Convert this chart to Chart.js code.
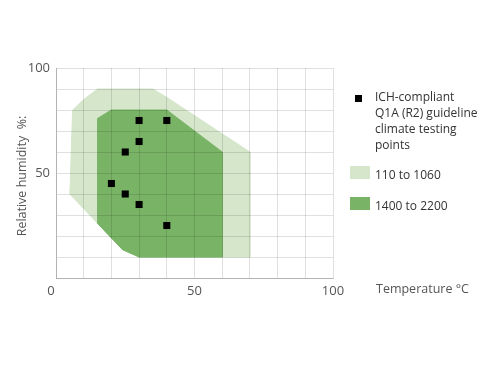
<!DOCTYPE html>
<html>
<head>
<meta charset="utf-8">
<script src="https://cdn.jsdelivr.net/npm/chart.js@4.4.1/dist/chart.umd.min.js"></script>
<style>
  html, body { margin: 0; padding: 0; background: #fff; }
  #wrap { width: 500px; height: 375px; position: relative; }
</style>
</head>
<body>
<div id="wrap"><canvas id="chart_climate" width="500" height="375"></canvas></div>
<script>
// x = temperature in °C, y = relative humidity in %
var lowRangeX  = [5, 6, 10, 15, 35, 40, 70, 70, 30, 24, 15, 5];
var lowRangeY  = [40, 80, 85, 90, 90, 86, 60, 10, 10, 13.5, 26, 40];
var highRangeX = [15, 15, 20, 40, 60, 60, 30, 24, 15];
var highRangeY = [26, 76, 80, 80, 60, 10, 10, 13.5, 26];
var ichX = [30, 40, 30, 25, 20, 25, 30, 40];
var ichY = [75, 75, 65, 60, 45, 40, 35, 25];
var xTickLabels = [0, 50, 100];
var yTickLabels = [50, 100];

var legendLines = ['ICH-compliant', 'Q1A (R2) guideline', 'climate testing', 'points'];
var legendLow = '110 to 1060';
var legendHigh = '1400 to 2200';

var LIGHT = '#d5e6cb';
var DARK = '#79b466';
var TEXT = '#555555';

function toPoints(xs, ys) {
  return xs.map(function (x, i) { return { x: x, y: ys[i] }; });
}

var chart_climate = new Chart(document.getElementById('chart_climate'), {
  type: 'scatter',
  data: {
    datasets: [
      {
        label: legendLines.join(' '),
        data: toPoints(ichX, ichY),
        pointStyle: 'rect',
        pointRadius: 5,
        pointHoverRadius: 5,
        backgroundColor: '#000',
        borderColor: '#000',
        borderWidth: 0,
        showLine: false,
        order: 0
      },
      {
        type: 'line',
        label: legendHigh,
        data: toPoints(highRangeX, highRangeY),
        fill: 'shape',
        pointRadius: 0,
        borderWidth: 1,
        borderColor: DARK,
        backgroundColor: DARK,
        tension: 0,
        order: 1
      },
      {
        type: 'line',
        label: legendLow,
        data: toPoints(lowRangeX, lowRangeY),
        fill: 'shape',
        pointRadius: 0,
        borderWidth: 1,
        borderColor: LIGHT,
        backgroundColor: LIGHT,
        tension: 0,
        order: 2
      }
    ]
  },
  options: {
    animation: false,
    responsive: false,
    layout: { padding: { left: 0, right: 167, top: 68, bottom: 0 } },
    plugins: {
      legend: { display: false },
      tooltip: { enabled: false }
    },
    scales: {
      x: {
        type: 'linear',
        min: 0,
        max: 100,
        afterFit: function (scale) { scale.height = 97; },
        grid: { color: 'rgba(0,0,0,0.12)', drawTicks: false, z: 1 },
        border: { color: 'rgba(0,0,0,0.2)', z: 2 },
        ticks: {
          stepSize: 10,
          autoSkip: false,
          maxRotation: 0,
          padding: 5,
          color: TEXT,
          font: { family: 'Open Sans', size: 13 },
          callback: function (value) {
            if (value === 0) return '0   ';
            return xTickLabels.indexOf(value) >= 0 ? String(value) : '';
          }
        }
      },
      y: {
        type: 'linear',
        min: 0,
        max: 100,
        afterFit: function (scale) { scale.width = 56; },
        grid: { color: 'rgba(0,0,0,0.12)', drawTicks: false, z: 1 },
        border: { color: 'rgba(0,0,0,0.2)', z: 2 },
        ticks: {
          stepSize: 10,
          autoSkip: false,
          padding: 6,
          color: TEXT,
          font: { family: 'Open Sans', size: 13 },
          callback: function (value) {
            return yTickLabels.indexOf(value) >= 0 ? String(value) : '';
          }
        }
      }
    }
  },
  plugins: [{
    id: 'annotations',
    afterDraw: function (chart) {
      var ctx = chart.ctx;
      ctx.save();
      ctx.fillStyle = TEXT;
      ctx.font = '12.5px "Open Sans"';
      ctx.textBaseline = 'middle';
      // x axis title, right of the axis
      ctx.textAlign = 'left';
      ctx.fillText('Temperature °C', 376, 289);
      // y axis title
      ctx.save();
      ctx.translate(22, 176);
      ctx.rotate(-Math.PI / 2);
      ctx.textAlign = 'center';
      ctx.fillText('Relative humidity  %:', 0, 0);
      ctx.restore();

      // legend
      ctx.font = '12px "Open Sans"';
      ctx.fillStyle = '#000';
      ctx.fillRect(355, 95, 7, 7);
      ctx.fillStyle = '#333';
      ctx.textAlign = 'left';
      legendLines.forEach(function (line, i) {
        ctx.fillText(line, 375, 98 + i * 16);
      });
      ctx.fillStyle = LIGHT;
      ctx.fillRect(350, 166, 20, 13);
      ctx.fillStyle = DARK;
      ctx.fillRect(350, 197, 20, 13);
      ctx.fillStyle = '#333';
      ctx.fillText(legendLow, 375, 176);
      ctx.fillText(legendHigh, 375, 207);
      ctx.restore();
    }
  }]
});
</script>
</body>
</html>
